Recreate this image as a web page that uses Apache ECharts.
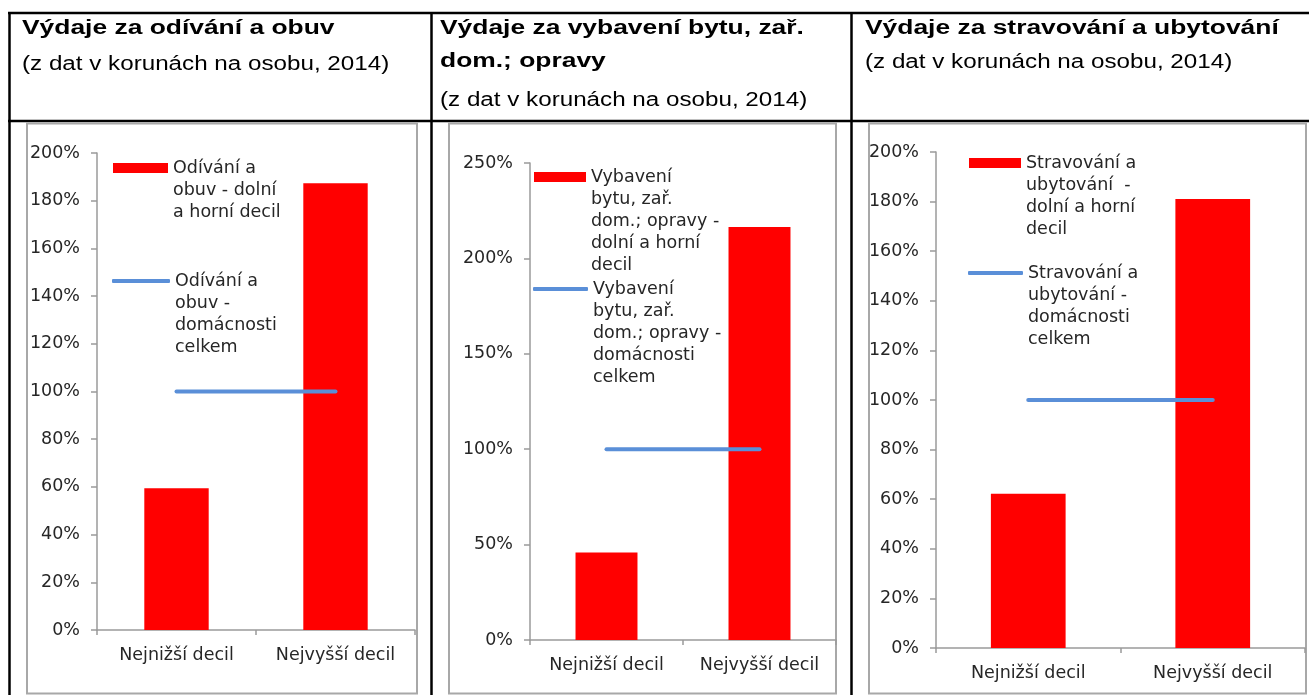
<!DOCTYPE html>
<html>
<head>
<meta charset="utf-8">
<script src="https://cdn.jsdelivr.net/npm/echarts@6/dist/echarts.min.js"></script>
<style>
html, body { margin: 0; padding: 0; background: #fff; }
#main { width: 1309px; height: 695px; }
</style>
</head>
<body>
<div id="main"></div>
<script>
var categories = ['Nejnižší decil', 'Nejvyšší decil'];

// vydaje decilu vuci prumeru vsech domacnosti (%)
var odivaniDecil = [59.4, 187.3];
var odivaniCelkem = [100, 100];
var vybaveniDecil = [45.8, 216.4];
var vybaveniCelkem = [100, 100];
var stravovaniDecil = [62.2, 181.0];
var stravovaniCelkem = [100, 100];

var yMax = [200, 250, 200];
var yStep = [20, 50, 20];

var headerTitles = [
    ['Výdaje za odívání a obuv'],
    ['Výdaje za vybavení bytu, zař.', 'dom.; opravy'],
    ['Výdaje za stravování a ubytování']
];
var headerNote = '(z dat v korunách na osobu, 2014)';

var names = [
    ['Odívání a obuv - dolní a horní decil', 'Odívání a obuv - domácnosti celkem'],
    ['Vybavení bytu, zař. dom.; opravy - dolní a horní decil', 'Vybavení bytu, zař. dom.; opravy - domácnosti celkem'],
    ['Stravování a ubytování - dolní a horní decil', 'Stravování a ubytování - domácnosti celkem']
];
// zalomeni textu legendy jako v originale
var legendLines = {};
legendLines[names[0][0]] = ['Odívání a', 'obuv - dolní', 'a horní decil'];
legendLines[names[0][1]] = ['Odívání a', 'obuv -', 'domácnosti', 'celkem'];
legendLines[names[1][0]] = ['Vybavení', 'bytu, zař.', 'dom.; opravy -', 'dolní a horní', 'decil'];
legendLines[names[1][1]] = ['Vybavení', 'bytu, zař.', 'dom.; opravy -', 'domácnosti', 'celkem'];
legendLines[names[2][0]] = ['Stravování a', 'ubytování  -', 'dolní a horní', 'decil'];
legendLines[names[2][1]] = ['Stravování a', 'ubytování -', 'domácnosti', 'celkem'];

var decilData = [odivaniDecil, vybaveniDecil, stravovaniDecil];
var celkemData = [odivaniCelkem, vybaveniCelkem, stravovaniCelkem];

var chartDom = document.getElementById('main');
var myChart = echarts.init(chartDom);

var FONT = 'DejaVu Sans';
var TXT = '#262626';
var AXIS = '#9a9a9a';
var RED = '#FF0000';
var BLUE = '#5A8FD8';
var LH = 22;

var grids = [
    { left: 97, top: 153, width: 318, height: 477 },
    { left: 530, top: 163, width: 306, height: 477 },
    { left: 936, top: 152, width: 369, height: 496 }
];
// pozice ikon legendy: [left, stred ikony y]
var legendPos = [
    [[113, 168], [113, 281]],
    [[534, 177], [534, 289]],
    [[969, 163], [969, 273]]
];
var iconW = [55, 52, 52];

// prazdne radky navic, aby prvni radek textu stal u ikony
function legendText(name) {
    var lines = legendLines[name];
    var pad = [];
    for (var p = 0; p < lines.length - 1; p++) pad.push('');
    return pad.concat(lines).join('\n');
}

var xAxes = [], yAxes = [], series = [], legends = [];
for (var i = 0; i < 3; i++) {
    xAxes.push({
        type: 'category',
        gridIndex: i,
        data: categories,
        axisLine: { lineStyle: { color: AXIS, width: 1.5 } },
        axisTick: { show: true, length: 5, lineStyle: { color: AXIS, width: 1.5 } },
        axisLabel: { interval: 0, color: TXT, fontFamily: FONT, fontSize: 17.5, margin: 16 }
    });
    yAxes.push({
        type: 'value',
        gridIndex: i,
        min: 0,
        max: yMax[i],
        interval: yStep[i],
        axisLine: { show: true, lineStyle: { color: AXIS, width: 1.5 } },
        axisTick: { show: true, length: 6, lineStyle: { color: AXIS, width: 1.5 } },
        splitLine: { show: false },
        axisLabel: { color: TXT, fontFamily: FONT, fontSize: 17.5, margin: 17, formatter: '{value}%' }
    });
    series.push({
        type: 'bar',
        name: names[i][0],
        xAxisIndex: i,
        yAxisIndex: i,
        data: decilData[i],
        barWidth: '40.5%',
        itemStyle: { color: RED }
    });
    series.push({
        type: 'line',
        name: names[i][1],
        xAxisIndex: i,
        yAxisIndex: i,
        data: celkemData[i],
        symbol: 'none',
        z: 3,
        itemStyle: { color: BLUE },
        lineStyle: { color: BLUE, width: 4, cap: 'round' }
    });
    for (var k = 0; k < 2; k++) {
        var n = legendLines[names[i][k]].length;
        legends.push({
            left: legendPos[i][k][0] - (k === 1 ? 1 : 0),
            top: legendPos[i][k][1] - (2 * n - 1) * LH / 2,
            orient: 'vertical',
            padding: 0,
            icon: k === 0 ? 'rect' : 'roundRect',
            itemWidth: iconW[i] + (k === 1 ? 3 : 0),
            itemHeight: k === 0 ? 10 : 4,
            selectedMode: false,
            data: [names[i][k]],
            formatter: legendText,
            textStyle: {
                color: TXT, fontFamily: FONT, fontSize: 17.5, lineHeight: LH,
                backgroundColor: 'rgba(0,0,0,0)'
            }
        });
    }
}

// tabulka a ramecky grafu
var graphics = [];
var black = { stroke: '#000', lineWidth: 2.5 };
graphics.push({ type: 'line', shape: { x1: 8, y1: 13, x2: 1309, y2: 13 }, style: black });
graphics.push({ type: 'line', shape: { x1: 8, y1: 121, x2: 1309, y2: 121 }, style: black });
[9.5, 431.5, 851.5].forEach(function (x) {
    graphics.push({ type: 'line', shape: { x1: x, y1: 12, x2: x, y2: 695 }, style: black });
});
[[27, 417], [449, 836], [869, 1306]].forEach(function (b) {
    graphics.push({
        type: 'rect',
        shape: { x: b[0], y: 123.5, width: b[1] - b[0], height: 570 },
        style: { fill: null, stroke: '#a8a8a8', lineWidth: 2 }
    });
});

var headX = [22, 440, 865];
var noteY = [64, 100, 62];
for (var h = 0; h < 3; h++) {
    headerTitles[h].forEach(function (t, j) {
        graphics.push({
            type: 'text', x: headX[h], y: 28 + j * 33, scaleX: 1.32,
            style: { text: t, font: 'bold 20px "Liberation Sans"', fill: '#000', verticalAlign: 'middle' }
        });
    });
    graphics.push({
        type: 'text', x: headX[h], y: noteY[h], scaleX: 1.21,
        style: { text: headerNote, font: '20px "Liberation Sans"', fill: '#000', verticalAlign: 'middle' }
    });
}

var option = {
    animation: false,
    grid: grids,
    xAxis: xAxes,
    yAxis: yAxes,
    legend: legends,
    series: series,
    graphic: { elements: graphics }
};

option && myChart.setOption(option);
</script>
</body>
</html>
